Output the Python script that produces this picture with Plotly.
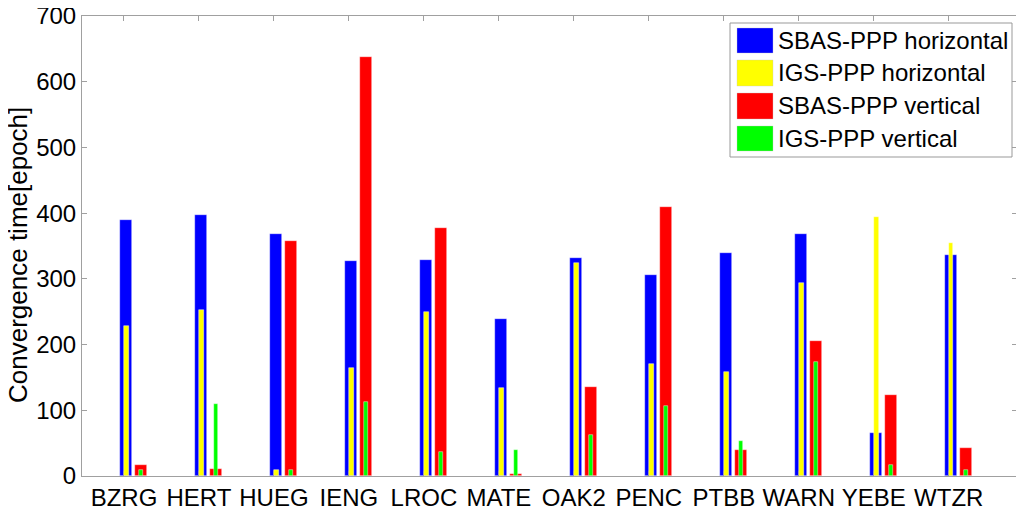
import plotly.graph_objects as go

stations = ["BZRG", "HERT", "HUEG", "IENG", "LROC", "MATE", "OAK2", "PENC", "PTBB", "WARN", "YEBE", "WTZR"]
sbas_h = [389, 397, 369, 327, 329, 239, 332, 306, 339, 369, 66, 336]
igs_h = [229, 252, 9, 165, 249, 134, 324, 170, 158, 294, 394, 355]
sbas_v = [16, 10, 357, 637, 378, 3, 136, 409, 39, 205, 123, 42]
igs_v = [9, 109, 9, 113, 36, 39, 62, 106, 53, 174, 16, 9]
y_ticks = [0, 100, 200, 300, 400, 500, 600, 700]

series_names = ["SBAS-PPP horizontal", "IGS-PPP horizontal", "SBAS-PPP vertical", "IGS-PPP vertical"]
colors = ["#0000FF", "#FFFF00", "#FF0000", "#00FF00"]

# page body has an 8px default margin; layout below is in screen pixels
OFF = 8
W, H = 1024 - OFF, 510 - OFF
SL, SR, ST, SB = 82, 1017, 16, 476  # plot area on screen
L, R, T, B = SL - OFF, SR - OFF, ST - OFF, SB - OFF

x = list(range(len(stations)))
fig = go.Figure()
specs = [
    (sbas_h, colors[0], -0.053, 0.16),
    (sbas_v, colors[2], 0.147, 0.16),
    (igs_h, colors[1], 0.003, 0.06),
    (igs_v, colors[3], 0.197, 0.06),
]
names_order = [series_names[0], series_names[2], series_names[1], series_names[3]]
for (vals, col, off, wd), nm in zip(specs, names_order):
    fig.add_trace(go.Bar(
        x=x, y=vals, name=nm, offset=off, width=wd,
        marker=dict(color=col, line=dict(width=0.6, color="rgba(255,255,255,0.7)")),
        showlegend=False,
    ))

def px(p):
    return (p - SL) / (SR - SL)

def py(p):
    return (SB - p) / (SB - ST)

FONT = "Liberation Sans, Arial, sans-serif"
shapes = [dict(type="rect", xref="paper", yref="paper",
               x0=px(730), x1=px(1012), y0=py(157), y1=py(23),
               line=dict(color="#999999", width=1), fillcolor="white", layer="above")]
annotations = []
rows = [(28, 53), (60, 86), (93, 119), (126, 151)]
for (y0, y1), nm, col in zip(rows, series_names, colors):
    shapes.append(dict(type="rect", xref="paper", yref="paper",
                       x0=px(737), x1=px(773), y0=py(y1), y1=py(y0),
                       line=dict(color="rgba(200,200,200,0.6)", width=0.6), fillcolor=col, layer="above"))
    annotations.append(dict(xref="paper", yref="paper", x=px(776), y=py((y0 + y1) / 2),
                            text=nm, showarrow=False, xanchor="left", yanchor="middle",
                            font=dict(size=24, color="black", family=FONT)))

annotations.append(dict(xref="paper", yref="paper", x=px(18), y=py(255),
                        text="Convergence time[epoch]", textangle=-90, showarrow=False,
                        xanchor="center", yanchor="middle",
                        font=dict(size=26, color="black", family=FONT)))

fig.update_layout(
    width=W, height=H,
    margin=dict(l=L, r=W - R, t=T, b=H - B, pad=0, autoexpand=False),
    paper_bgcolor="white", plot_bgcolor="white",
    barmode="overlay", bargap=0,
    font=dict(family=FONT, size=24, color="black"),
    shapes=shapes, annotations=annotations,
    xaxis=dict(
        tickmode="array", tickvals=x, ticktext=stations,
        range=[-0.56, 11.91], showgrid=False, zeroline=False, automargin=False,
        showline=True, linecolor="#a0a0a0", linewidth=1, mirror="ticks",
        ticks="inside", ticklen=5, tickcolor="#a0a0a0",
        tickfont=dict(size=24, color="black"), ticklabeloverflow="allow",
    ),
    yaxis=dict(
        range=[0, 700], tickmode="array", tickvals=y_ticks,
        showgrid=False, zeroline=False, automargin=False,
        showline=True, linecolor="#a0a0a0", linewidth=1, mirror="ticks",
        ticks="inside", ticklen=5, tickcolor="#a0a0a0",
        tickfont=dict(size=24, color="black"), ticklabeloverflow="allow",
    ),
)

fig.write_html("out.html")
